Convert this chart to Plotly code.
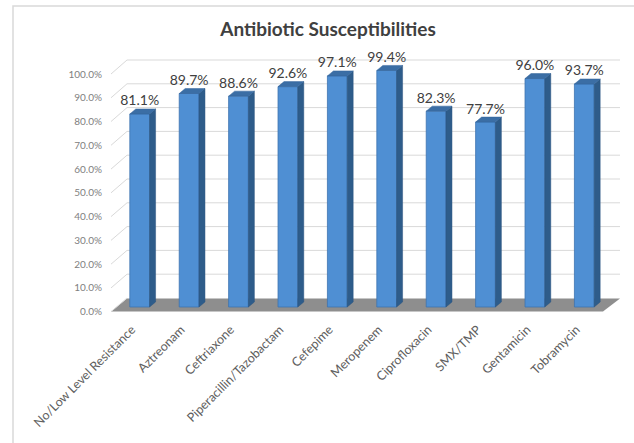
import plotly.graph_objects as go

# ---- data ----
categories = ["No/Low Level Resistance", "Aztreonam", "Ceftriaxone",
              "Piperacillin/Tazobactam", "Cefepime", "Meropenem",
              "Ciprofloxacin", "SMX/TMP", "Gentamicin", "Tobramycin"]
values = [0.811, 0.897, 0.886, 0.926, 0.971, 0.994, 0.823, 0.777, 0.960, 0.937]
y_ticks = [0.0, 0.1, 0.2, 0.3, 0.4, 0.5, 0.6, 0.7, 0.8, 0.9, 1.0]

# ---- geometry (pixels) ----
W, H = 634, 443
L, R, T, B = 115, 25, 55, 131
PW, PH = W - L - R, H - T - B
FRONT0, FRONT_PX = 307.0, 238.0      # bar scale: value 0 at px 307, 238 px per unit
LAB0, LAB_PX = 311.7, 237.7          # tick label scale
BACK_DY = 9.0                        # back wall offset (px up)

def px_x(p):
    return (p - L) / PW

def px_y(p):
    return (H - B - p) / PH

y_lo = (FRONT0 - (H - B)) / FRONT_PX
y_hi = (FRONT0 - T) / FRONT_PX
y2_lo = (LAB0 - (H - B)) / LAB_PX
y2_hi = (LAB0 - T) / LAB_PX

n = len(categories)
idx = list(range(n))
w = 0.4
dx = 6.0 / (PW / n)
dy = 5.0 / FRONT_PX

FONT = "Lato, 'Open Sans', sans-serif"

fig = go.Figure()

# front faces
fig.add_trace(go.Bar(
    x=idx, y=values, width=w,
    marker=dict(color="#4f8fd3", line=dict(color="#3d74b0", width=0.8)),
    hoverinfo="skip", showlegend=False,
))

# side + top faces
sx, sy = [], []
tx, ty = [], []
for i, v in zip(idx, values):
    sx += [i + w / 2, i + w / 2 + dx, i + w / 2 + dx, i + w / 2, i + w / 2, None]
    sy += [0, dy, v + dy, v, 0, None]
    tx += [i - w / 2, i + w / 2, i + w / 2 + dx, i - w / 2 + dx, i - w / 2, None]
    ty += [v, v, v + dy, v + dy, v, None]
fig.add_trace(go.Scatter(x=sx, y=sy, mode="lines", fill="toself",
                         fillcolor="#2e5c8a", line=dict(color="#2a5580", width=0.5),
                         hoverinfo="skip", showlegend=False))
fig.add_trace(go.Scatter(x=tx, y=ty, mode="lines", fill="toself",
                         fillcolor="#3b6ea5", line=dict(color="#35659a", width=0.5),
                         hoverinfo="skip", showlegend=False))

# value labels
fig.add_trace(go.Scatter(
    x=idx, y=[v + dy for v in values], mode="text",
    text=[f"{v * 100:.1f}%" for v in values], textposition="top center",
    textfont=dict(family=FONT, size=14, color="#404040"),
    hoverinfo="skip", showlegend=False, cliponaxis=False,
))

shapes = []
# outer border
shapes.append(dict(type="rect", xref="paper", yref="paper",
                   x0=px_x(13), x1=px_x(660), y0=px_y(470), y1=px_y(6),
                   line=dict(color="#d9d9d9", width=1.5), layer="below"))
# floor
floor_path = "M {} {} L {} {} L {} {} L {} {} Z".format(
    px_x(111), px_y(311.5), px_x(603), px_y(311.5),
    px_x(620), px_y(298.5), px_x(127), px_y(298.5))
shapes.append(dict(type="path", xref="paper", yref="paper", path=floor_path,
                   fillcolor="#7a7a7a", line=dict(width=0), layer="below",
                   opacity=0.85))
# back wall gridlines + diagonals
for v in y_ticks:
    back = FRONT0 - FRONT_PX * v - BACK_DY
    lab = LAB0 - LAB_PX * v
    if v > 0:
        shapes.append(dict(type="line", xref="paper", yref="paper",
                           x0=px_x(127), x1=px_x(620), y0=px_y(back), y1=px_y(back),
                           line=dict(color="#d9d9d9", width=1), layer="below"))
    shapes.append(dict(type="line", xref="paper", yref="paper",
                       x0=px_x(111), x1=px_x(127), y0=px_y(lab), y1=px_y(back),
                       line=dict(color="#d9d9d9", width=1), layer="below"))

fig.update_layout(
    template="none",
    width=W, height=H,
    margin=dict(l=L, r=R, t=T, b=B, pad=0),
    paper_bgcolor="white", plot_bgcolor="rgba(0,0,0,0)",
    font=dict(family=FONT, color="#595959"),
    title=dict(text="<b>Antibiotic Susceptibilities</b>", x=328 / W,
               xanchor="center", y=1 - 29 / H, yanchor="middle",
               font=dict(family=FONT, size=19, color="#404040")),
    shapes=shapes,
    xaxis=dict(range=[-0.5, n - 0.5], tickmode="array", tickvals=idx,
               ticktext=categories, tickangle=-45, showgrid=False,
               zeroline=False, showline=False, ticks="",
               ticklabelstandoff=7, ticklabelshift=-8,
               tickfont=dict(family=FONT, size=12.5, color="#606060")),
    yaxis=dict(range=[y_lo, y_hi], showgrid=False, zeroline=False,
               showticklabels=False, showline=False, ticks=""),
    yaxis2=dict(range=[y2_lo, y2_hi], overlaying="y", side="left",
                tickmode="array", tickvals=y_ticks, tickformat=".1%",
                showgrid=False, zeroline=False, showline=False, ticks="",
                ticklabelstandoff=12,
                tickfont=dict(family=FONT, size=10, color="#808080")),
)
# dummy trace to activate yaxis2
fig.add_trace(go.Scatter(x=[None], y=[None], yaxis="y2", showlegend=False,
                         hoverinfo="skip"))

fig.write_html("out.html")
